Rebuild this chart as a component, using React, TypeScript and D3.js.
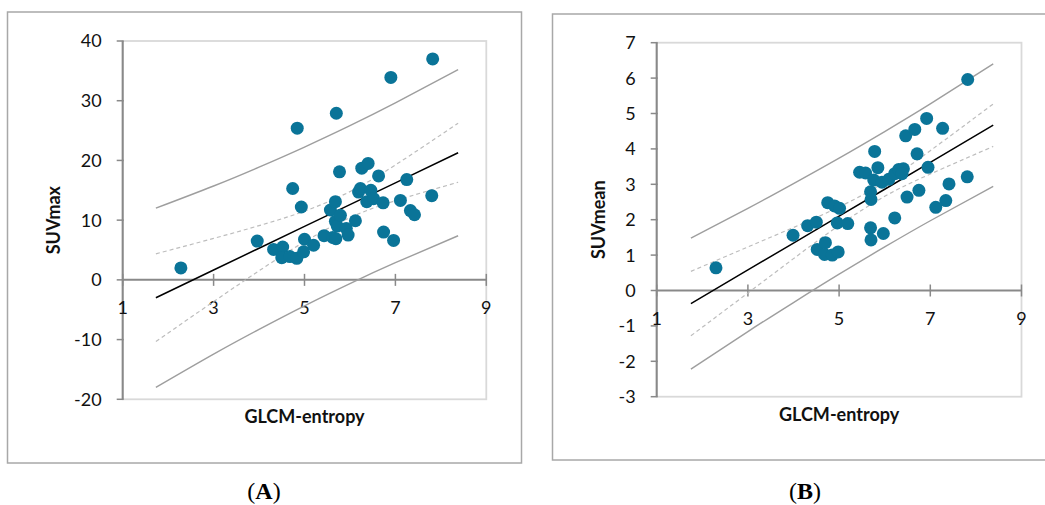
import React from "react";
import * as d3 from "d3";

// ---------- Data ----------
const entropyA = [2.28, 3.96, 4.32, 4.52, 4.5, 4.68, 4.83, 4.74, 4.84, 4.93, 4.98, 5.0, 5.2, 5.43, 5.62, 5.57, 5.68, 5.7, 5.69, 5.68, 5.72, 5.77, 5.79, 5.92, 5.96, 6.12, 6.19, 6.23, 6.26, 6.4, 6.37, 6.46, 6.52, 6.63, 6.73, 6.74, 6.9, 6.96, 7.11, 7.25, 7.33, 7.42, 7.8, 7.82];
const suvMax = [2.0, 6.5, 5.1, 5.5, 3.7, 3.9, 3.6, 15.3, 25.4, 12.2, 4.7, 6.8, 5.8, 7.4, 7.1, 11.7, 13.1, 27.9, 6.9, 9.8, 9.0, 18.1, 10.8, 8.6, 7.5, 9.9, 14.7, 15.3, 18.7, 19.5, 13.1, 15.0, 13.6, 17.4, 12.9, 8.0, 33.9, 6.6, 13.3, 16.8, 11.6, 10.9, 14.1, 37.0];

const entropyB = [2.3, 3.99, 4.31, 4.5, 4.52, 4.7, 4.68, 4.85, 4.98, 4.75, 4.9, 5.01, 4.96, 5.19, 5.45, 5.58, 5.69, 5.7, 5.78, 5.85, 5.76, 5.94, 6.09, 6.22, 6.31, 6.41, 6.38, 5.69, 5.7, 5.97, 6.22, 6.49, 6.71, 6.75, 6.95, 6.46, 6.66, 7.27, 7.12, 7.34, 7.41, 7.81, 6.92, 7.82];
const suvMean = [0.64, 1.56, 1.83, 1.93, 1.16, 1.35, 1.02, 1.0, 1.09, 2.48, 2.39, 2.32, 1.91, 1.89, 3.34, 3.32, 2.79, 2.57, 3.93, 3.47, 3.12, 3.06, 3.14, 3.3, 3.42, 3.44, 3.3, 1.77, 1.43, 1.61, 2.05, 2.64, 3.86, 2.83, 3.48, 4.37, 4.55, 4.58, 2.35, 2.54, 3.01, 3.21, 4.86, 5.96];

// regression lines and bands
const bandXA = [1.73, 3, 4, 5, 6, 7, 8.38];
const fitA = [-2.99, 1.65, 5.3, 8.95, 12.6, 16.25, 21.29];
const confUpperA = [4.36, 6.94, 9.08, 11.51, 14.78, 19.24, 26.24];
const confLowerA = [-10.34, -3.64, 1.52, 6.39, 10.42, 13.26, 16.34];
const predUpperA = [12.01, 15.72, 18.88, 22.24, 25.82, 29.63, 35.19];
const predLowerA = [-17.99, -12.42, -8.28, -4.34, -0.62, 2.87, 7.39];

const bandXB = [1.75, 3, 4, 5, 6, 7, 8.38];
const fitB = [-0.37, 0.58, 1.34, 2.1, 2.86, 3.62, 4.67];
const confUpperB = [0.54, 1.23, 1.78, 2.36, 3.06, 3.95, 5.27];
const confLowerB = [-1.28, -0.07, 0.9, 1.84, 2.66, 3.29, 4.07];
const predUpperB = [1.48, 2.32, 3.02, 3.74, 4.49, 5.27, 6.4];
const predLowerB = [-2.22, -1.16, -0.34, 0.46, 1.23, 1.97, 2.94];

const xTicks = [1, 3, 5, 7, 9];
const yTicksA = [-20, -10, 0, 10, 20, 30, 40];
const yTicksB = [-3, -2, -1, 0, 1, 2, 3, 4, 5, 6, 7];

const FONT = "Lato, 'Open Sans', sans-serif";
const DOT = "#0a7498";
const AXIS = "#898989";

type PanelProps = {
  frame: [number, number, number, number];
  xRange: [number, number];
  yRange: [number, number];
  yDomain: [number, number];
  yTicks: number[];
  xs: number[];
  ys: number[];
  bandX: number[];
  fit: number[];
  confU: number[];
  confL: number[];
  predU: number[];
  predL: number[];
  yTitle: string;
  yTitleX: number;
  xTitleY: number;
  tag: string;
  tagX: number;
};

function Panel(p: PanelProps) {
  const x = d3.scaleLinear().domain([1, 9]).range(p.xRange);
  const y = d3.scaleLinear().domain(p.yDomain).range(p.yRange);
  const line = d3
    .line<number>()
    .x((_, i) => x(p.bandX[i]))
    .y((d) => y(d))
    .curve(d3.curveNatural);
  const fitLine = d3
    .line<number>()
    .x((_, i) => x(p.bandX[i]))
    .y((d) => y(d));
  const [fx, fy, fw, fh] = p.frame;
  const x0 = x(1);
  const y0 = y(0);
  const top = y(p.yDomain[1]);
  const bottom = y(p.yDomain[0]);
  const right = x(9);
  const cx = (x(1) + x(9)) / 2;
  const cy = (top + bottom) / 2;
  return (
    <g>
      <rect x={fx} y={fy} width={fw} height={fh} fill="#fff" stroke="#a8a8a8" strokeWidth={1.5} />
      <rect x={x0} y={top} width={right - x0} height={bottom - top} fill="none" stroke="#d9d9d9" strokeWidth={1.8} />
      {/* axes */}
      <line x1={x0} x2={x0} y1={top} y2={bottom} stroke={AXIS} strokeWidth={2} />
      <line x1={x0} x2={right} y1={y0} y2={y0} stroke={AXIS} strokeWidth={2} />
      {p.yTicks.map((t) => (
        <g key={"y" + t}>
          <line x1={x0 - 6} x2={x0 + 1} y1={y(t)} y2={y(t)} stroke={AXIS} strokeWidth={1.5} />
          <text x={x0 - 21} y={y(t)} dy="0.36em" textAnchor="end" fontFamily={FONT} fontSize={18} fill="#111">
            {t}
          </text>
        </g>
      ))}
      {xTicks.map((t) => (
        <g key={"x" + t}>
          <line x1={x(t)} x2={x(t)} y1={y0 - 6} y2={y0 + 6} stroke={AXIS} strokeWidth={1.5} />
          <text x={x(t)} y={y0 + 34} textAnchor="middle" fontFamily={FONT} fontSize={18} fill="#111">
            {t}
          </text>
        </g>
      ))}
      {/* bands */}
      <path d={line(p.predU) || ""} fill="none" stroke="#9e9e9e" strokeWidth={1.4} />
      <path d={line(p.predL) || ""} fill="none" stroke="#9e9e9e" strokeWidth={1.4} />
      <path d={line(p.confU) || ""} fill="none" stroke="#bdbdbd" strokeWidth={1.2} strokeDasharray="4,3" />
      <path d={line(p.confL) || ""} fill="none" stroke="#bdbdbd" strokeWidth={1.2} strokeDasharray="4,3" />
      <path d={fitLine(p.fit) || ""} fill="none" stroke="#000" strokeWidth={1.5} />
      {p.xs.map((v, i) => (
        <circle key={i} cx={x(v)} cy={y(p.ys[i])} r={6.5} fill={DOT} />
      ))}
      <text
        transform={`translate(${p.yTitleX},${cy}) rotate(-90)`}
        dy="0.36em"
        textAnchor="middle"
        fontFamily={FONT}
        fontWeight="bold"
        fontSize={18}
        fill="#111"
      >
        {p.yTitle}
      </text>
      <text x={cx} y={p.xTitleY} textAnchor="middle" fontFamily={FONT} fontWeight="bold" fontSize={18} fill="#111">
        GLCM-entropy
      </text>
      <text x={p.tagX} y={499} textAnchor="middle" fontFamily="'Liberation Serif', 'DejaVu Serif', serif" fontSize={24} fill="#000">
        (<tspan fontWeight="bold">{p.tag}</tspan>)
      </text>
    </g>
  );
}

export default function App() {
  return (
    <svg
      width={1045}
      height={505}
      style={{ position: "absolute", left: 0, top: 0, background: "#fff" }}
    >
      <Panel
        frame={[7.5, 12, 514, 451]}
        xRange={[122.7, 486.3]}
        yRange={[399.3, 41]}
        yDomain={[-20, 40]}
        yTicks={yTicksA}
        xs={entropyA}
        ys={suvMax}
        bandX={bandXA}
        fit={fitA}
        confU={confUpperA}
        confL={confLowerA}
        predU={predUpperA}
        predL={predLowerA}
        yTitle="SUVmax"
        yTitleX={54}
        xTitleY={423}
        tag="A"
        tagX={264}
      />
      <Panel
        frame={[552.5, 14, 500, 446]}
        xRange={[656.7, 1021.5]}
        yRange={[396.7, 42.7]}
        yDomain={[-3, 7]}
        yTicks={yTicksB}
        xs={entropyB}
        ys={suvMean}
        bandX={bandXB}
        fit={fitB}
        confU={confUpperB}
        confL={confLowerB}
        predU={predUpperB}
        predL={predLowerB}
        yTitle="SUVmean"
        yTitleX={599}
        xTitleY={421}
        tag="B"
        tagX={805}
      />
    </svg>
  );
}
